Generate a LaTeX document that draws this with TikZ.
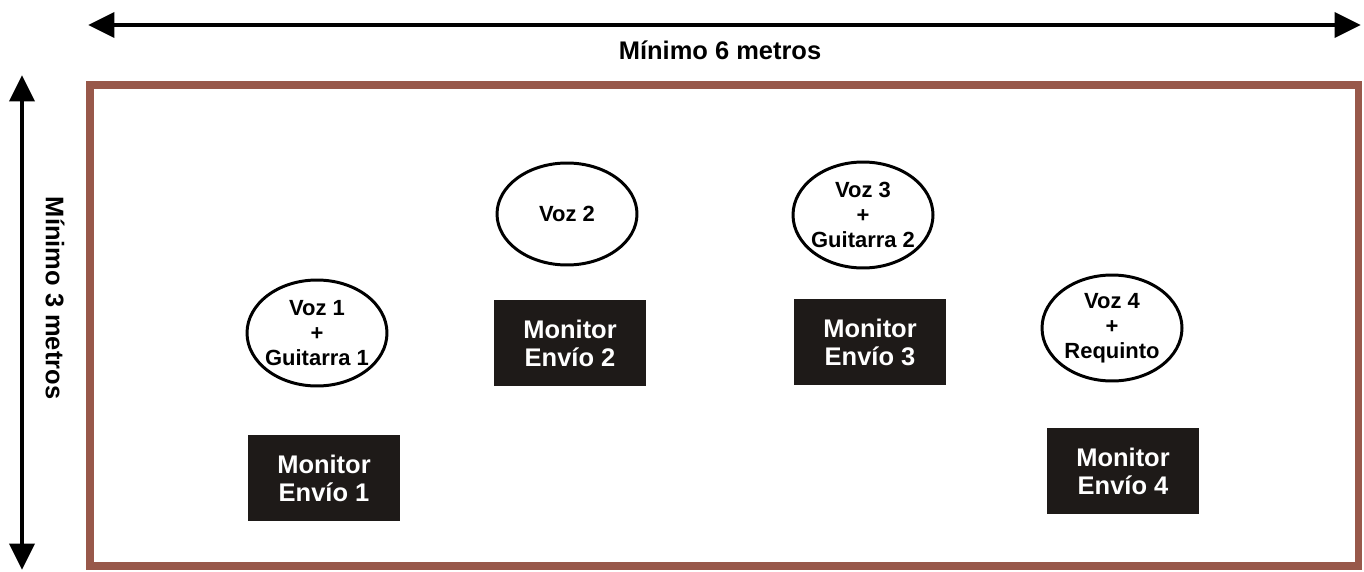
\documentclass[tikz,border=0pt]{standalone}
\usepackage{fontspec}
\setmainfont{Liberation Sans}
\usetikzlibrary{shapes.geometric,arrows.meta}
\definecolor{framebrown}{RGB}{152,88,74}
\definecolor{boxblack}{RGB}{30,26,24}
\begin{document}
\begin{tikzpicture}[x=0.02cm,y=-0.02cm,
  voice/.style={draw, ellipse, line width=1.7pt, minimum width=2.8cm, minimum height=2.12cm, inner xsep=-6pt, inner ysep=0pt, align=center, font=\fontsize{12.5}{14.2}\selectfont\bfseries},
  monitor/.style={rectangle, fill=boxblack, text=white, minimum width=3.04cm, minimum height=1.72cm, inner sep=0pt, align=center, font=\fontsize{14.5}{16}\selectfont\bfseries},
  measure/.style={line width=2.8pt, {Triangle[length=15pt,width=14pt]}-{Triangle[length=15pt,width=14pt]}}]
\useasboundingbox (0,0) rectangle (1364,571);

% Stage
\draw[framebrown, line width=4pt] (90,85) rectangle (1358,566);

% Measures
\coordinate (wleft) at (88,25);
\coordinate (wright) at (1361,25);
\coordinate (htop) at (22,75);
\coordinate (hbottom) at (22,570);
\draw[measure] (wleft) -- (wright);
\draw[measure] (htop) -- (hbottom);
\node[font=\fontsize{14.5}{16}\selectfont\bfseries] (wlabel) at (720,50) {Mínimo 6 metros};
\node[rotate=-90, font=\fontsize{14.5}{16}\selectfont\bfseries] (hlabel) at (55,298) {Mínimo 3 metros};

% Voices
\node[voice] (voz1) at (317,333) {Voz 1\\+\\Guitarra 1};
\node[voice, minimum height=2.04cm] (voz2) at (567,214) {Voz 2};
\node[voice] (voz3) at (863,215) {Voz 3\\+\\Guitarra 2};
\node[voice] (voz4) at (1112,328) {Voz 4\\+\\Requinto};

% Monitors
\node[monitor] (mon1) at (324,478) {Monitor\\Envío 1};
\node[monitor] (mon2) at (570,343) {Monitor\\Envío 2};
\node[monitor] (mon3) at (870,342) {Monitor\\Envío 3};
\node[monitor] (mon4) at (1123,471) {Monitor\\Envío 4};
\end{tikzpicture}
\end{document}
